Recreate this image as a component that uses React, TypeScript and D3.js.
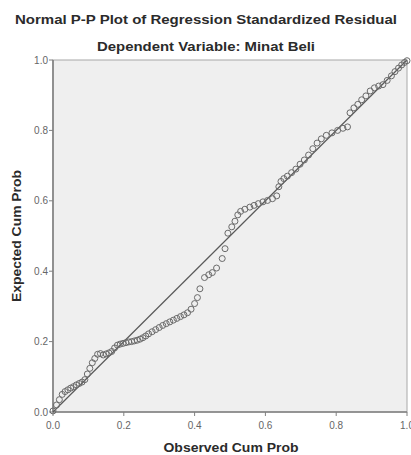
import React from "react";
import * as d3 from "d3";

const title = "Normal P-P Plot of Regression Standardized Residual";
const subtitle = "Dependent Variable: Minat Beli";
const xLabel = "Observed Cum Prob";
const yLabel = "Expected Cum Prob";
const tickValues = [0, 0.2, 0.4, 0.6, 0.8, 1.0];

const observed = [
  0.0, 0.01, 0.018, 0.026, 0.034, 0.042, 0.05, 0.058, 0.066, 0.074, 0.082, 0.09,
  0.097, 0.104, 0.111, 0.118, 0.126, 0.134, 0.142, 0.15, 0.158, 0.166, 0.174,
  0.182, 0.19, 0.198, 0.206, 0.214, 0.222, 0.23, 0.238, 0.246, 0.254, 0.262,
  0.27, 0.28, 0.29, 0.3, 0.31, 0.32, 0.33, 0.34, 0.35, 0.36, 0.37, 0.38, 0.39,
  0.4, 0.408, 0.415, 0.428, 0.44, 0.45, 0.462, 0.478, 0.486, 0.494, 0.505,
  0.514, 0.522, 0.53, 0.542, 0.556, 0.568, 0.58, 0.593, 0.606, 0.62, 0.632,
  0.638, 0.644, 0.652, 0.662, 0.674, 0.686, 0.698, 0.71, 0.722, 0.734, 0.746,
  0.758, 0.772, 0.788, 0.804, 0.819, 0.832, 0.839, 0.85, 0.861, 0.872, 0.884,
  0.896, 0.908, 0.92, 0.932, 0.944, 0.956, 0.966, 0.976, 0.985, 0.993, 1.0,
];

const expected = [
  0.003, 0.02, 0.035, 0.05, 0.058, 0.063, 0.068, 0.072, 0.077, 0.081, 0.085,
  0.092, 0.108, 0.124, 0.14, 0.152, 0.164, 0.166, 0.162, 0.165, 0.168, 0.172,
  0.182, 0.19, 0.193, 0.195, 0.197, 0.199, 0.2, 0.202, 0.204, 0.207, 0.211,
  0.216, 0.222, 0.228, 0.234, 0.24, 0.246, 0.251, 0.256, 0.261, 0.266, 0.271,
  0.276, 0.282, 0.292, 0.308, 0.325, 0.35, 0.382, 0.39, 0.396, 0.409, 0.436,
  0.464, 0.508, 0.526, 0.542, 0.56, 0.57, 0.576, 0.582, 0.587, 0.592, 0.597,
  0.601, 0.606, 0.614, 0.64, 0.655, 0.663, 0.67, 0.68, 0.69, 0.704, 0.716,
  0.73, 0.748, 0.764, 0.776, 0.786, 0.793, 0.8, 0.806, 0.81, 0.85, 0.864,
  0.874, 0.887, 0.898, 0.912, 0.921, 0.926, 0.93, 0.942, 0.955, 0.967, 0.977,
  0.986, 0.993, 0.998,
];

const W = 411;
const H = 455;
const left = 53;
const right = 407;
const top = 60;
const bottom = 412;

export default function App() {
  const x = d3.scaleLinear().domain([0, 1]).range([left, right]);
  const y = d3.scaleLinear().domain([0, 1]).range([bottom, top]);
  const fmt = d3.format(".1f");
  const textColor = "#2b2b2b";
  const font = "'Liberation Sans', Arial, sans-serif";

  return (
    <svg
      width={W}
      height={H}
      style={{ position: "absolute", left: 0, top: 0, background: "#fff" }}
      fontFamily={font}
    >
      <text x={206} y={24} textAnchor="middle" fontSize={13} fontWeight="bold" fill={textColor}
        textLength={382} lengthAdjust="spacingAndGlyphs">{title}</text>
      <text x={206} y={51} textAnchor="middle" fontSize={13} fontWeight="bold" fill={textColor}
        textLength={218} lengthAdjust="spacingAndGlyphs">{subtitle}</text>

      <rect x={left} y={top} width={right - left} height={bottom - top} fill="#efefef" stroke="#a8a8a8" strokeWidth={1} />
      <line x1={left} x2={left} y1={top} y2={bottom} stroke="#808080" strokeWidth={1.6} />
      <line x1={left} x2={right} y1={bottom} y2={bottom} stroke="#808080" strokeWidth={1.6} />

      {tickValues.map((t) => (
        <g key={"x" + t}>
          <line x1={x(t)} x2={x(t)} y1={bottom} y2={bottom + 4} stroke="#808080" />
          <text x={x(t)} y={429} textAnchor="middle" fontSize={10} fill="#666">{fmt(t)}</text>
        </g>
      ))}
      {tickValues.map((t) => (
        <g key={"y" + t}>
          <line x1={left - 4} x2={left} y1={y(t)} y2={y(t)} stroke="#808080" />
          <text x={left - 5} y={y(t) + 3.5} textAnchor="end" fontSize={10} fill="#666">{fmt(t)}</text>
        </g>
      ))}

      <line x1={x(0)} y1={y(0)} x2={x(1)} y2={y(1)} stroke="#5a5a5a" strokeWidth={1.2} />

      {observed.map((o, i) => (
        <circle key={i} cx={x(o)} cy={y(expected[i])} r={3} fill="none" stroke="#6a6a6a" strokeWidth={1} />
      ))}

      <text x={231} y={452} textAnchor="middle" fontSize={13} fontWeight="bold" fill={textColor}
        textLength={135} lengthAdjust="spacingAndGlyphs">{xLabel}</text>
      <text transform={`translate(21,236) rotate(-90)`} textAnchor="middle" fontSize={13} fontWeight="bold" fill={textColor}
        textLength={132} lengthAdjust="spacingAndGlyphs">{yLabel}</text>
    </svg>
  );
}
